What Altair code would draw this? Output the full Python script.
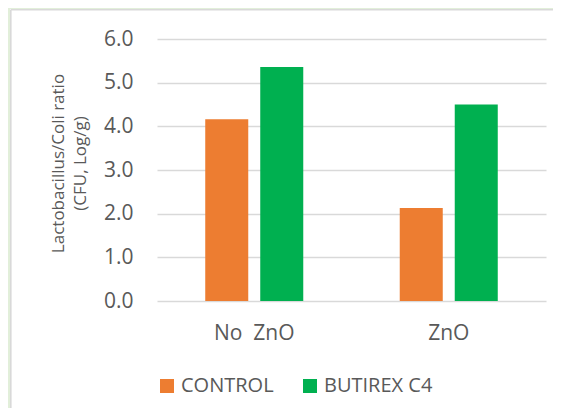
import altair as alt
import pandas as pd

categories = ["No\u00a0\u00a0ZnO", "ZnO"]
groups = ["CONTROL", "BUTIREX C4"]
control_vals = [4.16, 2.13]
butirex_vals = [5.36, 4.50]
colors = ["#ED7D31", "#00B050"]

rows = []
for i, c in enumerate(categories):
    rows.append({"cat": c, "grp": groups[0], "val": control_vals[i]})
    rows.append({"cat": c, "grp": groups[1], "val": butirex_vals[i]})
df = pd.DataFrame(rows)

W, H = 389, 262
FONT = "Open Sans"
GREY = "#595959"
GREEN_BG = "#E2EFDA"
one = alt.Data(values=[{}])

strip_left = alt.Chart(one).mark_rect(fill=GREEN_BG).encode(
    x=alt.value(-150), x2=alt.value(-147), y=alt.value(-32), y2=alt.value(H + 120))
strip_top = alt.Chart(one).mark_rect(fill=GREEN_BG).encode(
    x=alt.value(-150), x2=alt.value(W + 20), y=alt.value(-32), y2=alt.value(-30))
edge_left = alt.Chart(one).mark_rule(color="#D9D9D9", strokeWidth=1.6).encode(
    x=alt.value(-146.2), y=alt.value(-29.2), y2=alt.value(H + 120))
edge_top = alt.Chart(one).mark_rule(color="#D9D9D9", strokeWidth=1.6).encode(
    x=alt.value(-146.2), x2=alt.value(W + 20), y=alt.value(-29.2))

bars = alt.Chart(df).mark_bar().encode(
    x=alt.X("cat:N", sort=categories,
            scale=alt.Scale(paddingInner=0, paddingOuter=0),
            axis=alt.Axis(title=None, labelAngle=0, domain=False, ticks=False,
                          labelFontSize=21, labelColor=GREY, labelFont=FONT,
                          labelPadding=21)),
    xOffset=alt.XOffset("grp:N", sort=groups,
                        scale=alt.Scale(paddingInner=0.218, paddingOuter=0.877)),
    y=alt.Y("val:Q", scale=alt.Scale(domain=[0, 6], nice=False),
            axis=alt.Axis(values=[0, 1, 2, 3, 4, 5, 6], format=".1f",
                          title=["Lactobacillus/Coli ratio", "(CFU, Log/g)"],
                          titleFont=FONT, titleFontSize=17, titleFontWeight="normal",
                          titleColor=GREY, titleLineHeight=22,
                          titleAngle=-90, titleAlign="center", titleBaseline="top",
                          titleX=-107, titleY=124,
                          domain=False, ticks=False, grid=True,
                          gridColor="#D9D9D9", gridWidth=1.6,
                          labelFontSize=21, labelColor=GREY, labelFont=FONT,
                          labelPadding=24)),
    color=alt.Color("grp:N", sort=groups,
                    scale=alt.Scale(domain=groups, range=colors),
                    legend=alt.Legend(title=None, orient="none", direction="horizontal",
                                      legendX=0, legendY=337,
                                      symbolType="square", symbolSize=196,
                                      symbolStrokeWidth=0, symbolOpacity=1,
                                      labelFont=FONT, labelFontSize=20,
                                      labelColor=GREY, labelOffset=4,
                                      columnPadding=26)),
)

chart = alt.layer(bars, strip_left, strip_top, edge_left, edge_top).properties(
    width=W, height=H,
    background="white",
    padding={"left": 149, "top": 31, "right": 7, "bottom": 107},
    autosize=alt.AutoSizeParams(type="none"),
).configure_view(stroke=None)

chart.save("out.html", embed_options={"renderer": "svg", "actions": False})
